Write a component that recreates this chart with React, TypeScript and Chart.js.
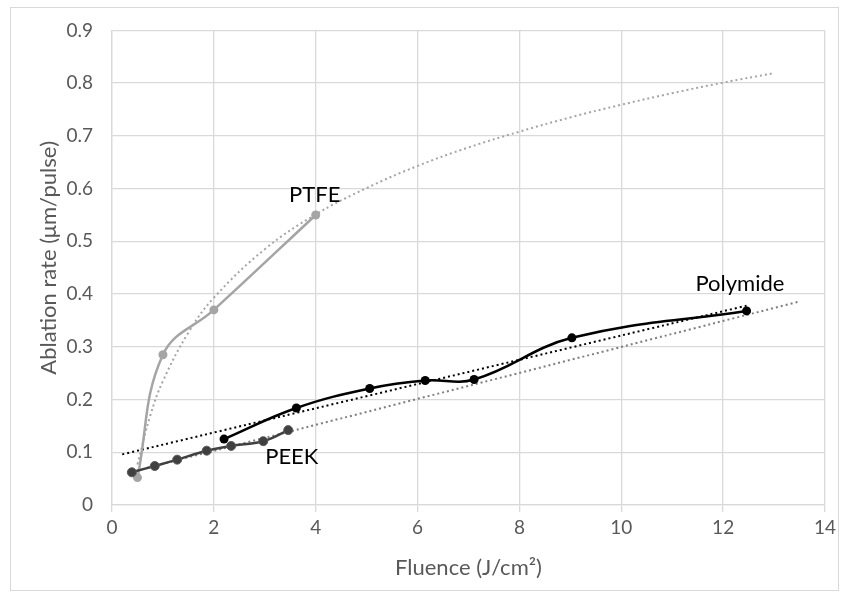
import React, { useEffect, useRef } from "react";
import { Chart, registerables } from "chart.js";
Chart.register(...registerables);

// ---- data ----
const ptfeX = [0.5, 1, 2, 4];
const ptfeY = [0.052, 0.285, 0.37, 0.55];
const polyX = [2.2, 3.62, 5.06, 6.15, 7.11, 9.03, 12.46];
const polyY = [0.125, 0.184, 0.221, 0.236, 0.238, 0.317, 0.368];
const peekX = [0.39, 0.84, 1.28, 1.86, 2.34, 2.97, 3.46];
const peekY = [0.062, 0.074, 0.086, 0.103, 0.112, 0.121, 0.142];
// trendlines
const ptfeTrendX = [0.5, 0.75, 1, 1.5, 2, 3, 4, 5, 6, 7, 8, 9, 10, 11, 12, 13];
const ptfeTrendY = [0.077, 0.169, 0.235, 0.327, 0.393, 0.485, 0.551, 0.601, 0.643, 0.678, 0.708, 0.735, 0.759, 0.781, 0.801, 0.819];
const polyTrendX = [0.2, 12.46];
const polyTrendY = [0.096, 0.378];
const peekTrendX = [0.39, 13.46];
const peekTrendY = [0.063, 0.385];
// labels
const labelTexts = ["PTFE", "Polymide", "PEEK"];
const labelX = [3.98, 12.33, 3.53];
const labelY = [0.588, 0.42, 0.091];

const xMin = 0, xMax = 14, xStep = 2;
const yMin = 0, yMax = 0.9, yStep = 0.1;
const xTitle = "Fluence (J/cm²)";
const yTitle = "Ablation rate (μm/pulse)";

const FONT = "Lato, 'Open Sans', sans-serif";

const pts = (xs: number[], ys: number[]) => xs.map((x, i) => ({ x, y: ys[i] }));

export default function App() {
  const ref = useRef<HTMLCanvasElement | null>(null);
  useEffect(() => {
    if (!ref.current) return;
    const labelsPlugin = {
      id: "labels",
      afterDatasetsDraw(chart: any) {
        const { ctx, scales, chartArea } = chart;
        ctx.save();
        ctx.font = `22px ${FONT}`;
        ctx.fillStyle = "#000";
        ctx.textAlign = "center";
        ctx.textBaseline = "middle";
        labelTexts.forEach((t, i) => {
          ctx.fillText(t, scales.x.getPixelForValue(labelX[i]), scales.y.getPixelForValue(labelY[i]));
        });
        // y axis title
        ctx.fillStyle = "#595959";
        ctx.translate(49, (chartArea.top + chartArea.bottom) / 2 - 10);
        ctx.rotate(-Math.PI / 2);
        ctx.fillText(yTitle, 0, 0);
        ctx.restore();
      },
    };
    const borderPlugin = {
      id: "outerBorder",
      afterDraw(chart: any) {
        const { ctx } = chart;
        ctx.save();
        ctx.strokeStyle = "#D9D9D9";
        ctx.lineWidth = 1;
        ctx.strokeRect(10.5, 7.5, 828, 583);
        ctx.restore();
      },
    };
    const dotted = (data: any, color: string, order: number, dash = [2, 3]) => ({
      data,
      showLine: true,
      borderColor: color,
      borderWidth: 2,
      borderDash: dash,
      pointRadius: 0,
      fill: false,
      tension: 0.4,
      order,
    });
    const chart = new Chart(ref.current, {
      type: "scatter",
      data: {
        datasets: [
          dotted(pts(ptfeTrendX, ptfeTrendY), "#A5A5A5", 6),
          dotted(pts(peekTrendX, peekTrendY), "#7F7F7F", 5),
          dotted(pts(polyTrendX, polyTrendY), "#000000", 4),
          {
            data: pts(ptfeX, ptfeY),
            showLine: true,
            borderColor: "#A5A5A5",
            backgroundColor: "#A5A5A5",
            borderWidth: 2.5,
            pointRadius: 4.5,
            pointBorderWidth: 0,
            tension: 0.4,
            order: 3,
          },
          {
            data: pts(peekX, peekY),
            showLine: true,
            borderColor: "#404040",
            backgroundColor: "#404040",
            pointBorderColor: "#595959",
            borderWidth: 2.5,
            pointRadius: 4.5,
            pointBorderWidth: 1,
            tension: 0.4,
            order: 2,
          },
          {
            data: pts(polyX, polyY),
            showLine: true,
            borderColor: "#000000",
            backgroundColor: "#000000",
            borderWidth: 2.5,
            pointRadius: 4.5,
            pointBorderWidth: 0,
            tension: 0.4,
            order: 1,
          },
        ] as any,
      },
      options: {
        animation: false,
        responsive: false,
        maintainAspectRatio: false,
        layout: { padding: { left: 10, right: 19, top: 29, bottom: 7 } },
        plugins: { legend: { display: false }, tooltip: { enabled: false } },
        scales: {
          x: {
            type: "linear",
            min: xMin,
            max: xMax,
            afterFit: (s: any) => { s.height = 85; },
            ticks: { stepSize: xStep, color: "#595959", font: { family: FONT, size: 19 }, padding: 4 },
            grid: { color: "#D9D9D9", lineWidth: 1.3, tickLength: 7, tickColor: "#D9D9D9", drawTicks: true },
            border: { color: "#D9D9D9", width: 1.3 },
            title: { display: true, text: xTitle, color: "#595959", font: { family: FONT, size: 22 }, padding: { top: 0, bottom: 9 } },
          },
          y: {
            type: "linear",
            min: yMin,
            max: yMax,
            afterFit: (s: any) => { s.width = 102; },
            ticks: { stepSize: yStep, color: "#595959", font: { family: FONT, size: 19 }, padding: 19 },
            grid: { color: "#D9D9D9", lineWidth: 1.3, drawTicks: false },
            border: { color: "#D9D9D9", width: 1.3 },
            title: { display: false },
          },
        },
      },
      plugins: [labelsPlugin, borderPlugin],
    } as any);
    return () => chart.destroy();
  }, []);
  return (
    <div style={{ position: "fixed", left: 0, top: 0, width: 844, height: 597, background: "#fff" }}>
      <canvas ref={ref} width={844} height={597} style={{ display: "block" }} />
    </div>
  );
}
